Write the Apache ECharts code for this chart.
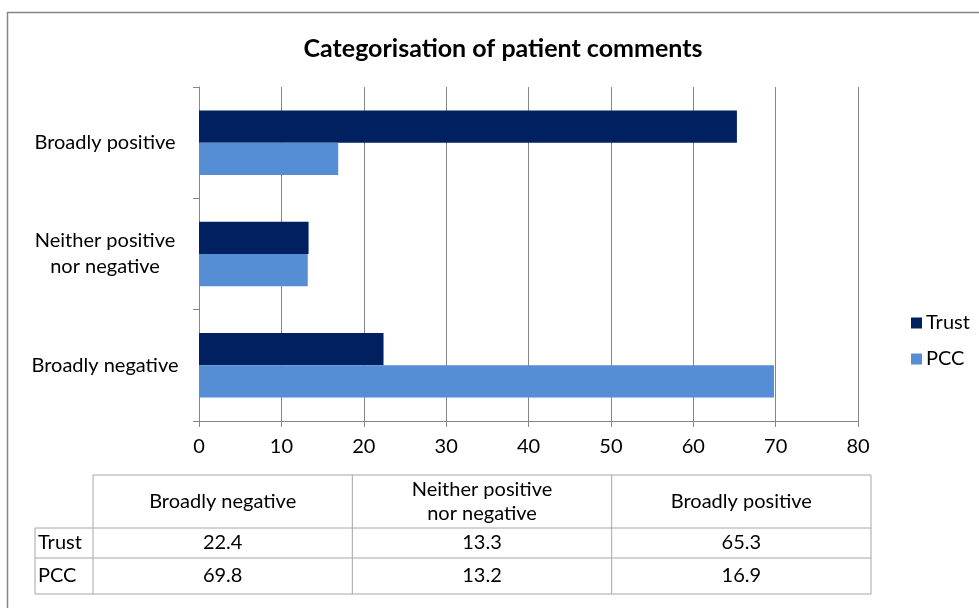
<!DOCTYPE html>
<html>
<head>
<meta charset="utf-8">
<script src="https://cdn.jsdelivr.net/npm/echarts@6/dist/echarts.min.js"></script>
<style>
  html, body { margin: 0; padding: 0; background: #fff; }
  #chart { width: 979px; height: 608px; }
</style>
</head>
<body>
<div id="chart"></div>
<script>
// categories, bottom to top as on the axis
const categories = ['Broadly negative', 'Neither positive\nnor negative', 'Broadly positive']
const seriesNames = ['Trust', 'PCC']
const trustValues = [22.4, 13.3, 65.3]
const pccValues = [69.8, 13.2, 16.9]
const xTicks = [0, 10, 20, 30, 40, 50, 60, 70, 80]

const chart = echarts.init(document.getElementById('chart'))
const FONT = 'Lato, "Open Sans", sans-serif'
const FS = 20

// data table under the chart
function buildTable() {
    const els = []
    const lineColor = '#a6a6a6'
    const x0 = 35, x1 = 93, x4 = 871
    const colW = (x4 - x1) / categories.length
    const y0 = 475, y1 = 528, y2 = 558, y3 = 594
    const line = (ax, ay, bx, by) => ({
        type: 'line',
        shape: { x1: ax, y1: ay, x2: bx, y2: by },
        style: { stroke: lineColor, lineWidth: 1 }
    })
    els.push(line(x1, y0, x4, y0))
    els.push(line(x0, y1, x4, y1))
    els.push(line(x0, y2, x4, y2))
    els.push(line(x0, y3, x4, y3))
    els.push(line(x0, y1, x0, y3))
    for (let i = 0; i <= categories.length; i++) {
        const x = x1 + colW * i
        els.push(line(x, y0, x, y3))
    }
    const rows = [trustValues, pccValues]
    categories.forEach((c, i) => {
        const cx = x1 + colW * (i + 0.5)
        els.push({
            type: 'text',
            x: cx, y: (y0 + y1) / 2,
            style: { text: c, fill: '#000', font: FS + 'px ' + FONT, align: 'center', verticalAlign: 'middle', lineHeight: 24 }
        })
        rows.forEach((r, j) => {
            const ya = j === 0 ? y1 : y2
            const yb = j === 0 ? y2 : y3
            els.push({
                type: 'text',
                x: cx, y: (ya + yb) / 2,
                style: { text: String(r[i]), fill: '#000', font: FS + 'px ' + FONT, align: 'center', verticalAlign: 'middle' }
            })
        })
    })
    seriesNames.forEach((n, j) => {
        const ya = j === 0 ? y1 : y2
        const yb = j === 0 ? y2 : y3
        els.push({
            type: 'text',
            x: x0 + 3, y: (ya + yb) / 2,
            style: { text: n, fill: '#000', font: FS + 'px ' + FONT, align: 'left', verticalAlign: 'middle' }
        })
    })
    // outer chart frame
    els.push({
        type: 'rect',
        shape: { x: 7.5, y: 12.5, width: 1000, height: 1000 },
        style: { fill: 'none', stroke: '#868686', lineWidth: 1.5 },
        z: -1
    })
    return els
}

const option = {
    animation: false,
    color: ['#002060', '#558ED5'],
    title: {
        text: 'Categorisation of patient comments',
        left: 498,
        textAlign: 'center',
        top: 31,
        textStyle: { fontFamily: FONT, fontSize: 25, fontWeight: 'bold', color: '#000' }
    },
    legend: {
        orient: 'vertical',
        left: 906,
        top: 308,
        itemWidth: 11,
        itemHeight: 11,
        itemGap: 16,
        icon: 'rect',
        data: seriesNames,
        textStyle: { fontFamily: FONT, fontSize: FS, color: '#000', padding: [0, 0, 0, -1] }
    },
    grid: {
        left: 199,
        right: 121,
        top: 87,
        bottom: 187,
        containLabel: false
    },
    xAxis: {
        type: 'value',
        min: 0,
        max: 80,
        interval: 10,
        axisLine: { show: true, lineStyle: { color: '#868686', width: 1 } },
        axisTick: { show: true, length: 6, lineStyle: { color: '#868686' } },
        splitLine: { show: true, lineStyle: { color: '#868686', width: 1 } },
        axisLabel: {
            margin: 16,
            fontFamily: FONT,
            fontSize: FS,
            color: '#000',
            formatter: v => xTicks.includes(v) ? String(v) : ''
        }
    },
    yAxis: {
        type: 'category',
        data: categories,
        axisLine: { show: true, lineStyle: { color: '#868686', width: 1 } },
        axisTick: { show: true, length: 6, lineStyle: { color: '#868686' } },
        axisLabel: {
            margin: 94,
            align: 'center',
            fontFamily: FONT,
            fontSize: FS,
            lineHeight: 26,
            color: '#000'
        }
    },
    series: [
        {
            name: 'Trust',
            type: 'bar',
            data: trustValues,
            barGap: '0%',
            barCategoryGap: '42%'
        },
        {
            name: 'PCC',
            type: 'bar',
            data: pccValues,
            barGap: '0%',
            barCategoryGap: '42%'
        }
    ],
    graphic: buildTable()
}

chart.setOption(option)
</script>
</body>
</html>
